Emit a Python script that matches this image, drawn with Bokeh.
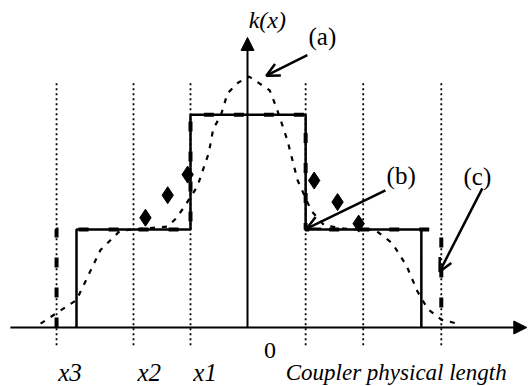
from bokeh.plotting import figure
from bokeh.models import Label, Arrow, NormalHead, OpenHead, Range1d
from bokeh.embed import file_html
from bokeh.resources import INLINE

# ---- data ----
marker_x = [-3.35, -2.0, -1.0, 1.02, 2.03, 3.40]          # x3, x2, x1 and mirrors
marker_labels = ["x3", "x2", "x1"]

step_b_x = [-3.0, -3.0, -1.0, -1.0, 1.02, 1.02, 3.05, 3.05]
step_b_y = [0.0, 1.0, 1.0, 2.17, 2.17, 1.0, 1.0, 0.0]

step_c_x = [-3.35, -3.35, -1.0, -1.0, 1.02, 1.02, 3.40, 3.40]
step_c_y = [0.0, 1.0, 1.0, 2.17, 2.17, 1.0, 1.0, 0.0]

curve_a_x = [-3.63, -3.0, -2.58, -2.23, -1.79, -1.40, -1.26, -1.11, -0.88, -0.68,
             -0.60, -0.47, -0.35, -0.16, 0.03, 0.39, 0.51, 0.70, 0.88, 1.12,
             1.35, 1.81, 2.23, 2.54, 2.79, 2.98, 3.16, 3.40, 3.75]
curve_a_y = [0.04, 0.28, 0.79, 0.99, 1.01, 1.03, 1.11, 1.23, 1.44, 1.78,
             2.03, 2.16, 2.39, 2.50, 2.56, 2.42, 2.24, 1.91, 1.50, 1.19,
             1.04, 1.00, 1.00, 0.86, 0.63, 0.37, 0.19, 0.08, 0.03]

diamond_x = [-1.79, -1.40, -1.05, 1.17, 1.58, 1.95]
diamond_y = [1.12, 1.35, 1.56, 1.50, 1.28, 1.06]

# ---- layout constants (pixels per unit) ----
W, H = 528, 386
SX, SY = 57.0, 98.0
X0PX, Y0PX = 247.0, 327.0   # position of origin inside plot (from left, from top)

p = figure(width=W, height=H, output_backend="svg", toolbar_location=None,
           x_range=Range1d(-X0PX / SX, (W - X0PX) / SX),
           y_range=Range1d(-(H - Y0PX) / SY, Y0PX / SY),
           min_border=0, outline_line_color=None)
p.axis.visible = False
p.grid.visible = False
p.background_fill_color = "white"

# dotted vertical markers
p.segment(x0=marker_x, y0=[-0.18] * len(marker_x), x1=marker_x, y1=[2.52] * len(marker_x),
          line_color="black", line_width=1.8, line_dash="2 3")

# axes
p.add_layout(Arrow(x_start=-4.16, y_start=0, x_end=4.90, y_end=0, line_width=2,
                   end=NormalHead(size=13, fill_color="black", line_color="black")))
p.add_layout(Arrow(x_start=0, y_start=0, x_end=0, y_end=2.96, line_width=2,
                   end=NormalHead(size=13, fill_color="black", line_color="black")))

# curves
p.line(curve_a_x, curve_a_y, line_color="black", line_width=2.2, line_dash="5 7")
p.line(step_c_x, step_c_y, line_color="black", line_width=4, line_dash="10 20")
p.line(step_b_x, step_b_y, line_color="black", line_width=2.5)
p.scatter(diamond_x, diamond_y, marker="diamond", size=17, color="black")

# annotation arrows
for (xs, ys, xe, ye) in [(1.05, 2.78, 0.33, 2.57), (2.42, 1.40, 1.04, 1.01), (4.12, 1.42, 3.37, 0.57)]:
    p.add_layout(Arrow(x_start=xs, y_start=ys, x_end=xe, y_end=ye, line_width=2.5,
                       end=OpenHead(size=13, line_width=2.5, line_color="black")))

serif = "Liberation Serif"
def lab(x, y, t, size, style="normal", baseline="middle"):
    p.add_layout(Label(x=x, y=y, text=t, text_font=serif, text_font_size=f"{size}px",
                       text_font_style=style, text_baseline=baseline, text_color="black"))

lab(0.02, 3.14, "k(x)", 24, "italic")
lab(1.07, 2.97, "(a)", 25)
lab(2.44, 1.55, "(b)", 25)
lab(3.79, 1.54, "(c)", 25)
for xx, t in zip([-3.32, -1.93, -0.95], marker_labels):
    lab(xx, -0.46, t, 25, "italic", "alphabetic")
lab(0.29, -0.235, "0", 24)
lab(0.67, -0.455, "Coupler physical length", 23, "italic", "alphabetic")

open("out.html", "w").write(file_html(p, INLINE))
